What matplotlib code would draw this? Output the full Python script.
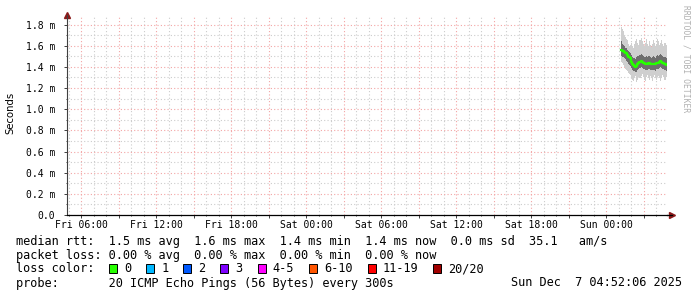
import matplotlib
matplotlib.use("Agg")
import matplotlib.pyplot as plt
import matplotlib.dates as mdates
import matplotlib.patches as mpatches
import numpy as np

# ---- data (ms), one value per 5 minute step ----
start_time = np.datetime64("2025-12-07T01:10")
step_min = 5
median_ms = [1.56, 1.56, 1.55, 1.55, 1.54, 1.53, 1.53, 1.51, 1.49, 1.49, 1.48, 1.45, 1.43, 1.42, 1.41,
             1.40, 1.41, 1.43, 1.44, 1.45, 1.46, 1.45, 1.44, 1.44, 1.43, 1.43, 1.43, 1.44, 1.44, 1.43,
             1.43, 1.43, 1.43, 1.43, 1.43, 1.44, 1.44, 1.44, 1.45, 1.46, 1.45, 1.44, 1.44, 1.43, 1.42]
p75_ms = [1.62, 1.64, 1.62, 1.61, 1.60, 1.58, 1.58, 1.56, 1.55, 1.54, 1.53, 1.51, 1.49, 1.48, 1.48,
          1.47, 1.49, 1.50, 1.50, 1.51, 1.52, 1.51, 1.50, 1.49, 1.49, 1.50, 1.49, 1.50, 1.50, 1.49,
          1.48, 1.49, 1.50, 1.49, 1.48, 1.50, 1.51, 1.50, 1.51, 1.52, 1.51, 1.50, 1.49, 1.49, 1.48]
p25_ms = [1.51, 1.50, 1.49, 1.49, 1.48, 1.47, 1.46, 1.45, 1.43, 1.42, 1.41, 1.39, 1.37, 1.36, 1.36,
          1.35, 1.35, 1.37, 1.38, 1.39, 1.40, 1.39, 1.38, 1.38, 1.37, 1.37, 1.37, 1.38, 1.38, 1.37,
          1.37, 1.37, 1.37, 1.37, 1.36, 1.38, 1.38, 1.38, 1.39, 1.40, 1.39, 1.38, 1.38, 1.37, 1.36]
max_ms = [1.72, 1.78, 1.76, 1.74, 1.70, 1.68, 1.66, 1.65, 1.62, 1.60, 1.61, 1.63, 1.60, 1.58, 1.62,
          1.64, 1.66, 1.63, 1.61, 1.65, 1.67, 1.64, 1.62, 1.60, 1.63, 1.66, 1.62, 1.60, 1.64, 1.61,
          1.59, 1.62, 1.65, 1.63, 1.60, 1.62, 1.66, 1.64, 1.61, 1.63, 1.65, 1.62, 1.60, 1.63, 1.61]
min_ms = [1.46, 1.45, 1.44, 1.42, 1.40, 1.38, 1.37, 1.36, 1.34, 1.33, 1.32, 1.30, 1.28, 1.27, 1.29,
          1.31, 1.26, 1.28, 1.30, 1.29, 1.31, 1.33, 1.30, 1.28, 1.27, 1.30, 1.32, 1.29, 1.28, 1.31,
          1.29, 1.27, 1.30, 1.32, 1.29, 1.28, 1.30, 1.31, 1.29, 1.27, 1.30, 1.32, 1.30, 1.28, 1.30]

y_ticks = [0.0, 0.2, 0.4, 0.6, 0.8, 1.0, 1.2, 1.4, 1.6, 1.8]
loss_labels = ["0", "1", "2", "3", "4-5", "6-10", "11-19", "20/20"]
loss_colors = ["#26ff00", "#00b8ff", "#0059ff", "#7e00ff", "#ff00ff", "#ff5500", "#ff0000", "#a10000"]

view_start = np.datetime64("2025-12-05T04:52:06")
view_end = np.datetime64("2025-12-07T04:52:06")

legend_lines = [
    "median rtt:  1.5 ms avg  1.6 ms max  1.4 ms min  1.4 ms now  0.0 ms sd  35.1   am/s",
    "packet loss: 0.00 % avg  0.00 % max  0.00 % min  0.00 % now",
    "loss color:",
    "probe:       20 ICMP Echo Pings (56 Bytes) every 300s",
]
stamp = "Sun Dec  7 04:52:06 2025"

mono = "DejaVu Sans Mono"
W, H = 697, 297
fig = plt.figure(figsize=(W / 100, H / 100), dpi=100)
ax = fig.add_axes([67 / W, 82 / H, 600 / W, 200 / H])

times = start_time + np.arange(len(median_ms)) * np.timedelta64(step_min, "m")
t = times.astype("datetime64[s]").astype(object)

# smoke: outer range light, inner quartiles dark
ax.fill_between(t, min_ms, max_ms, step="pre", color="#cfcfcf", lw=0, zorder=2)
ax.fill_between(t, p25_ms, p75_ms, step="pre", color="#6e6e6e", lw=0, zorder=3)
ax.plot(t, median_ms, drawstyle="steps-pre", color=loss_colors[0], lw=1.6, zorder=4)

ax.set_xlim(view_start.astype(object), view_end.astype(object))
ax.set_ylim(0, 1.89)

# grid
ax.xaxis.set_major_locator(mdates.HourLocator(byhour=range(0, 24, 3)))
ax.xaxis.set_minor_locator(mdates.HourLocator())


def xfmt(x, pos):
    d = mdates.num2date(x)
    return d.strftime("%a %H:%M") if d.hour % 6 == 0 else ""


ax.xaxis.set_major_formatter(plt.FuncFormatter(xfmt))
ax.set_yticks(y_ticks)
ax.set_yticklabels(["0.0"] + ["%.1f m" % v for v in y_ticks[1:]])
ax.set_yticks(np.arange(0.1, 1.9, 0.2), minor=True)

ax.grid(which="minor", color="#cccccc", linestyle=(0, (1, 2)), linewidth=0.8, zorder=1)
ax.grid(which="major", color="#f3a5a5", linestyle=(0, (1, 2)), linewidth=0.8, zorder=1)
ax.set_axisbelow(True)

for s in ["top", "right"]:
    ax.spines[s].set_visible(False)
ax.spines["left"].set_color("#404040")
ax.spines["bottom"].set_color("black")
ax.spines["left"].set_linewidth(0.8)
ax.spines["bottom"].set_linewidth(0.9)

ax.tick_params(which="major", length=2, width=0.7, color="#404040")
ax.tick_params(which="minor", length=1, width=0.7, color="#404040")
ax.tick_params(axis="x", pad=1.5)
ax.tick_params(axis="y", pad=6.5)
for lab in ax.get_xticklabels() + ax.get_yticklabels():
    lab.set_fontfamily(mono)
    lab.set_fontsize(7)
    lab.set_color("black")

# axis arrows
ax.plot([0], [1.0], marker="^", ms=4, color="#8b1a1a", transform=ax.transAxes, clip_on=False)
ax.plot([1.0075], [0], marker=">", ms=4, color="#8b1a1a", transform=ax.transAxes, clip_on=False)
ax.plot([1.0, 1.0075], [0, 0], color="black", lw=0.9, transform=ax.transAxes, clip_on=False)

fig.text(10 / W, 1 - 113 / H, "Seconds", rotation=90, ha="center", va="center",
         fontsize=7.3, family="DejaVu Sans")
fig.text(686 / W, 1 - 5 / H, "RRDTOOL / TOBI OETIKER", rotation=270, ha="center", va="top",
         fontsize=5.8, family=mono, color="#b0b0b0")

# legend
fs = 8.55
cw = fs / 72 * 100 * 0.602
x0 = 16
rows = [241, 255, 269, 283]
for line, y in zip(legend_lines, rows):
    fig.text(x0 / W, 1 - y / H, line, family=mono, fontsize=fs, ha="left", va="center")
fig.text(682 / W, 1 - rows[3] / H, stamp, family=mono, fontsize=fs, ha="right", va="center")

bx = 109
for lab, col in zip(loss_labels, loss_colors):
    fig.patches.append(mpatches.Rectangle((bx / W, 1 - (rows[2] + 4) / H), 8 / W, 9 / H,
                                          transform=fig.transFigure, facecolor=col,
                                          edgecolor="black", lw=0.7))
    lx = bx + 15
    fig.text(lx / W, 1 - rows[2] / H, lab, family=mono, fontsize=fs, ha="left", va="center")
    bx = lx + len(lab) * cw + 15

fig.savefig("out.png", dpi=100)
